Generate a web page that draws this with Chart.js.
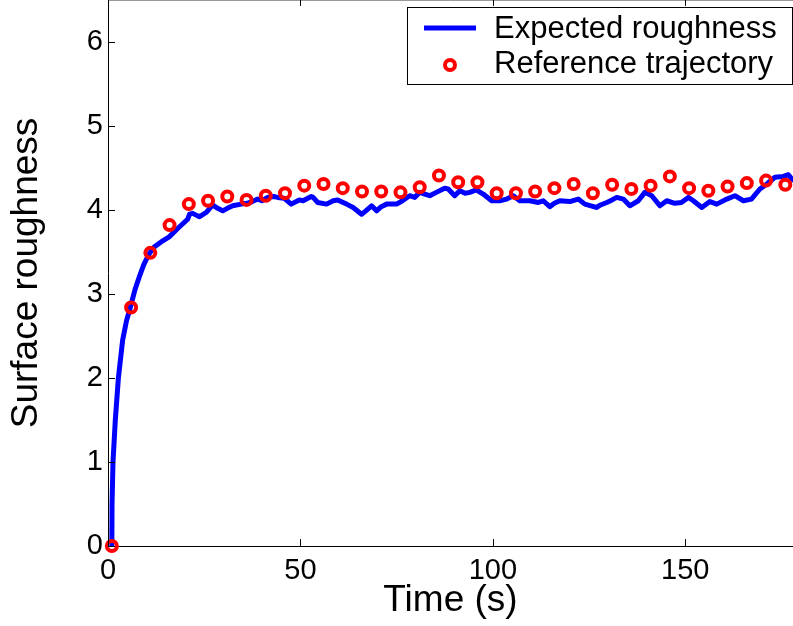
<!DOCTYPE html>
<html>
<head>
<meta charset="utf-8">
<script src="https://cdn.jsdelivr.net/npm/chart.js@4.4.1/dist/chart.umd.min.js"></script>
<style>
  html, body { margin: 0; padding: 0; background: #fff; }
  canvas { display: block; }
</style>
</head>
<body>
<canvas id="roughChart" width="793" height="626"></canvas>
<script>
// expected roughness (blue line)
const roughTime = [1, 1.05, 1.3, 1.9, 2.7, 3.8, 4.8, 5.8, 7, 8.1, 9.3, 10.7, 12, 13.8, 15.9, 18.1, 20.7, 21.2, 22, 23.3, 23.8, 25.5, 27.2, 28.5, 29.8, 31, 32.4, 34.6, 36.1, 37.5, 38.9, 40, 41.5, 43, 44.1, 45.8, 47.6, 49.7, 50.7, 52.8, 53.3, 54.5, 56.8, 58.5, 59.7, 61.1, 62, 63.7, 65.9, 67, 68.5, 69.8, 71, 72.4, 75, 76.5, 78.4, 79.7, 81, 82.3, 83.6, 85.3, 87.5, 88.4, 90.1, 91.4, 92.8, 94, 95.7, 97.5, 99.7, 101.8, 103.6, 105.3, 107, 109.6, 111.8, 113.1, 114.8, 116, 117.4, 120, 122.2, 123.9, 125.5, 126.9, 128, 129.6, 131, 132.2, 133.9, 135.6, 137.8, 139.5, 141.3, 143.4, 145.2, 147.3, 149, 150.8, 152.1, 154.3, 156.4, 158.2, 160.8, 162.9, 165.1, 167.2, 169.4, 171.2, 173.3, 175.5, 176.8, 177.5, 178];
const roughValue = [0, 0.5, 1.0, 1.5, 2.0, 2.45, 2.68, 2.84, 3.05, 3.2, 3.35, 3.48, 3.56, 3.62, 3.68, 3.78, 3.89, 3.95, 3.96, 3.93, 3.92, 3.97, 4.06, 4.02, 3.99, 4.02, 4.05, 4.07, 4.08, 4.10, 4.13, 4.11, 4.15, 4.16, 4.15, 4.14, 4.07, 4.12, 4.11, 4.16, 4.15, 4.09, 4.07, 4.11, 4.12, 4.09, 4.07, 4.03, 3.95, 3.99, 4.05, 3.99, 4.04, 4.07, 4.07, 4.11, 4.17, 4.15, 4.21, 4.19, 4.17, 4.21, 4.26, 4.25, 4.17, 4.23, 4.20, 4.21, 4.24, 4.19, 4.11, 4.11, 4.13, 4.17, 4.11, 4.11, 4.09, 4.11, 4.04, 4.08, 4.11, 4.10, 4.13, 4.07, 4.05, 4.03, 4.06, 4.09, 4.12, 4.15, 4.13, 4.05, 4.11, 4.21, 4.17, 4.05, 4.11, 4.08, 4.09, 4.15, 4.11, 4.03, 4.10, 4.07, 4.13, 4.17, 4.11, 4.13, 4.25, 4.31, 4.39, 4.40, 4.42, 4.38, 4.36];

// reference trajectory (red circles)
const refTime = [1, 6, 11, 16, 21, 26, 31, 36, 41, 46, 51, 56, 61, 66, 71, 76, 81, 86, 91, 96, 101, 106, 111, 116, 121, 126, 131, 136, 141, 146, 151, 156, 161, 166, 171, 176];
const refValue = [0, 2.84, 3.49, 3.82, 4.07, 4.11, 4.16, 4.12, 4.17, 4.20, 4.29, 4.31, 4.26, 4.22, 4.22, 4.21, 4.27, 4.41, 4.33, 4.33, 4.20, 4.20, 4.22, 4.26, 4.31, 4.20, 4.30, 4.25, 4.29, 4.40, 4.26, 4.23, 4.28, 4.32, 4.35, 4.30];

const xTicks = [0, 50, 100, 150];
const yTicks = [0, 1, 2, 3, 4, 5, 6];

const FONT = "'Liberation Sans', Arial, sans-serif";

// inward tick marks and the top edge of the box
const boxPlugin = {
    id: 'boxTicks',
    afterDatasetsDraw(chart) {
        const ctx = chart.ctx;
        const area = chart.chartArea;
        const xs = chart.scales.x, ys = chart.scales.y;
        ctx.save();
        ctx.strokeStyle = '#999';
        ctx.lineWidth = 1;
        ctx.beginPath();
        ctx.moveTo(area.left, 0.5);
        ctx.lineTo(area.right, 0.5);
        ctx.stroke();
        ctx.strokeStyle = '#000';
        ctx.beginPath();
        xTicks.forEach(v => {
            const px = Math.round(xs.getPixelForValue(v)) + 0.5;
            ctx.moveTo(px, area.bottom);
            ctx.lineTo(px, area.bottom - 7);
            ctx.moveTo(px, area.top);
            ctx.lineTo(px, area.top + 6);
        });
        yTicks.forEach(v => {
            const py = Math.round(ys.getPixelForValue(v)) + 0.5;
            ctx.moveTo(area.left, py);
            ctx.lineTo(area.left + 7, py);
        });
        ctx.stroke();
        ctx.restore();
    },
    afterDraw(chart) {
        // legend box in the top right corner
        const ctx = chart.ctx;
        const line = chart.data.datasets[1];
        const dots = chart.data.datasets[0];
        ctx.save();
        ctx.fillStyle = '#fff';
        ctx.fillRect(407.5, 7.5, 385, 77);
        ctx.strokeStyle = '#000';
        ctx.lineWidth = 1;
        ctx.strokeRect(407.5, 7.5, 385, 77);

        ctx.strokeStyle = line.borderColor;
        ctx.lineWidth = line.borderWidth;
        ctx.beginPath();
        ctx.moveTo(424, 28);
        ctx.lineTo(476, 28);
        ctx.stroke();

        ctx.strokeStyle = dots.borderColor;
        ctx.lineWidth = dots.borderWidth;
        ctx.beginPath();
        ctx.arc(450, 65, dots.pointRadius, 0, Math.PI * 2);
        ctx.stroke();

        ctx.fillStyle = '#000';
        ctx.font = '31px ' + FONT;
        ctx.textBaseline = 'middle';
        ctx.textAlign = 'left';
        ctx.fillText(line.label, 494, 29);
        ctx.fillText(dots.label, 494, 64);
        ctx.restore();
    }
};

new Chart(document.getElementById('roughChart'), {
    type: 'scatter',
    data: {
        datasets: [
            {
                label: 'Reference trajectory',
                data: refTime.map((t, i) => ({ x: t, y: refValue[i] })),
                borderColor: '#ff0000',
                backgroundColor: 'rgba(0,0,0,0)',
                borderWidth: 4,
                pointRadius: 5,
                pointHoverRadius: 5,
                showLine: false,
                clip: false,
                order: 0
            },
            {
                label: 'Expected roughness',
                data: roughTime.map((t, i) => ({ x: t, y: roughValue[i] })),
                borderColor: '#0000ff',
                backgroundColor: '#0000ff',
                borderWidth: 5,
                borderJoinStyle: 'round',
                borderCapStyle: 'round',
                pointRadius: 0,
                showLine: true,
                tension: 0,
                order: 1
            }
        ]
    },
    options: {
        responsive: false,
        animation: false,
        events: [],
        layout: { padding: 0, autoPadding: false },
        plugins: {
            legend: { display: false },
            tooltip: { enabled: false }
        },
        scales: {
            x: {
                type: 'linear',
                min: 0,
                max: 178,
                afterBuildTicks: s => { s.ticks = xTicks.map(v => ({ value: v })); },
                afterFit: s => {
                    s.height = 80;
                    s.paddingLeft = 0; s.paddingRight = 0;
                },
                grid: { display: false, drawTicks: false },
                border: { display: true, color: '#000', width: 1 },
                ticks: { color: '#000', padding: 8, maxRotation: 0, font: { family: FONT, size: 29 } },
                title: {
                    display: true,
                    text: 'Time (s)',
                    color: '#000',
                    font: { family: FONT, size: 37 },
                    padding: { top: 0, bottom: 3 }
                }
            },
            y: {
                type: 'linear',
                min: 0,
                max: 6.5,
                afterBuildTicks: s => { s.ticks = yTicks.map(v => ({ value: v })); },
                afterFit: s => {
                    s.width = 108;
                    s.paddingTop = 0; s.paddingBottom = 0;
                },
                grid: { display: false, drawTicks: false },
                border: { display: true, color: '#000', width: 1 },
                ticks: { color: '#000', padding: 5, font: { family: FONT, size: 29 } },
                title: {
                    display: true,
                    text: 'Surface roughness',
                    color: '#000',
                    font: { family: FONT, size: 37 },
                    padding: { top: 5, bottom: 0 }
                }
            }
        }
    },
    plugins: [boxPlugin]
});
</script>
</body>
</html>
